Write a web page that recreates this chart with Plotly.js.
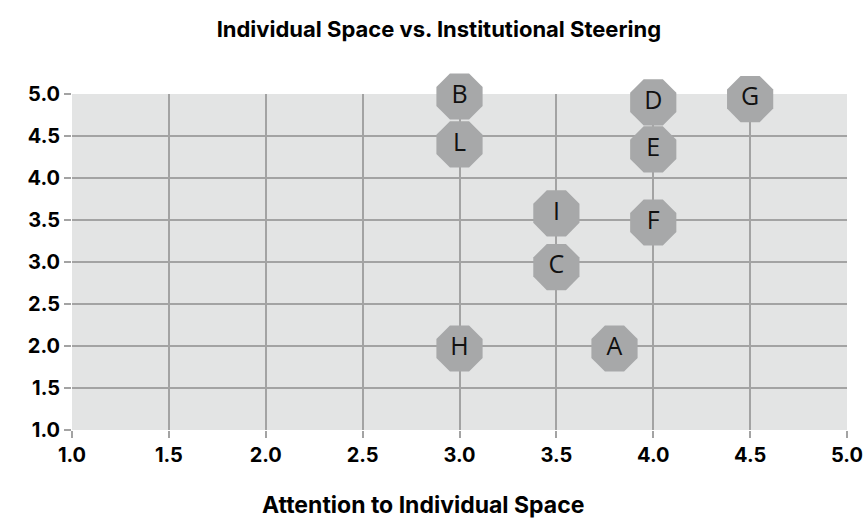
<!DOCTYPE html>
<html>
<head>
<meta charset="utf-8">
<script src="https://cdn.plot.ly/plotly-3.0.1.min.js"></script>
<style>html,body{margin:0;padding:0;background:#fff;}#chart{width:864px;height:520px;}</style>
</head>
<body>
<div id="chart"></div>
<script>
const labels = ["A","B","C","D","E","F","G","H","I","L"];
const xValues = [3.8, 3.0, 3.5, 4.0, 4.0, 4.0, 4.5, 3.0, 3.5, 3.0];
const yValues = [1.97, 4.97, 2.94, 4.90, 4.34, 3.47, 4.94, 1.97, 3.58, 4.40];
const tickVals = [1.0, 1.5, 2.0, 2.5, 3.0, 3.5, 4.0, 4.5, 5.0];
const tickText = ["1.0","1.5","2.0","2.5","3.0","3.5","4.0","4.5","5.0"];
const chartTitle = "Individual Space vs. Institutional Steering";
const xTitle = "Attention to Individual Space";

const FONT = "Inter, Liberation Sans, Arial, sans-serif";

const trace = {
  type: "scatter",
  mode: "markers+text",
  x: xValues,
  y: yValues,
  text: labels,
  textposition: "middle center",
  textfont: {family: "Open Sans", size: 25, color: "#111"},
  marker: {symbol: "octagon", size: 50, color: "#a7a8a9", line: {width: 0}},
  cliponaxis: false,
  hoverinfo: "none"
};

const axisCommon = {
  range: [1, 5],
  tickvals: tickVals,
  ticktext: tickText,
  showgrid: true,
  gridcolor: "#a3a3a3",
  gridwidth: 2,
  zeroline: false,
  showline: false,
  ticks: "outside",
  ticklen: 7,
  tickwidth: 2,
  tickcolor: "#a3a3a3",
  tickfont: {family: FONT, size: 20, color: "#000", weight: 700},
  fixedrange: true
};

const layout = {
  width: 864,
  height: 520,
  margin: {l: 72, r: 17, t: 94, b: 90},
  paper_bgcolor: "#ffffff",
  plot_bgcolor: "#e3e4e4",
  showlegend: false,
  title: {
    text: chartTitle,
    font: {family: FONT, size: 22, color: "#000", weight: 700},
    xref: "container", x: 0.508, xanchor: "center", y: 0.944, yanchor: "middle"
  },
  xaxis: Object.assign({}, axisCommon, {}),
  yaxis: Object.assign({}, axisCommon, {}),
  annotations: [{
    text: xTitle,
    xref: "paper", yref: "paper",
    x: 0.453, y: -0.224,
    xanchor: "center", yanchor: "middle",
    showarrow: false,
    font: {family: FONT, size: 23, color: "#000", weight: 700}
  }]
};

Plotly.newPlot("chart", [trace], layout, {displayModeBar: false, staticPlot: true});
</script>
</body>
</html>
